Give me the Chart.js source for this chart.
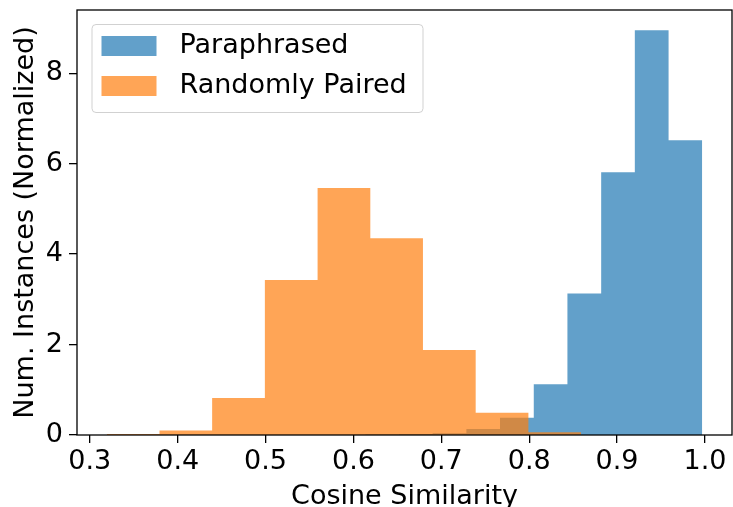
<!DOCTYPE html>
<html><head><meta charset="utf-8">
<script src="https://cdn.jsdelivr.net/npm/chart.js@4.4.0/dist/chart.umd.min.js"></script>
<style>html,body{margin:0;padding:0;background:#fff;overflow:hidden}</style>
</head><body>
<canvas id="c" width="733" height="507"></canvas>
<script>
// ---- data ----
const seriesNames = ['Paraphrased', 'Randomly Paired'];
const paraphrasedEdges = [0.6134, 0.6518, 0.6901, 0.7285, 0.7668, 0.8052, 0.8435, 0.8819, 0.9202, 0.9586, 0.9969];
const paraphrasedValues = [0.01, 0.02, 0.04, 0.13, 0.38, 1.12, 3.13, 5.81, 8.95, 6.52];
const randomEdges = [0.3193, 0.3793, 0.4392, 0.4992, 0.5592, 0.6192, 0.6791, 0.7391, 0.7991, 0.8590];
const randomValues = [0.02, 0.10, 0.82, 3.43, 5.46, 4.35, 1.88, 0.49, 0.06];
const xTicks = [0.3, 0.4, 0.5, 0.6, 0.7, 0.8, 0.9, 1.0];
const yTicks = [0, 2, 4, 6, 8];
const xTitle = 'Cosine Similarity';
const yTitle = 'Num. Instances (Normalized)';

const FONT = 'DejaVu Sans';
const FS = 27;

function histPoints(edges, values) {
  const pts = [{x: edges[0], y: 0}];
  for (let i = 0; i < values.length; i++) {
    pts.push({x: edges[i], y: values[i]});
    pts.push({x: edges[i + 1], y: values[i]});
  }
  pts.push({x: edges[values.length], y: 0});
  return pts;
}

const allEdges = paraphrasedEdges.concat(randomEdges);
const xLo = Math.min(...allEdges), xHi = Math.max(...allEdges);
const xPad = 0.05 * (xHi - xLo);
const yMax = 1.05 * Math.max(...paraphrasedValues, ...randomValues);

const spinesAndLegend = {
  id: 'spinesAndLegend',
  afterDatasetsDraw(chart) {
    const {ctx, chartArea: a} = chart;
    ctx.save();
    ctx.strokeStyle = '#000';
    ctx.lineWidth = 1.3;
    ctx.strokeRect(a.left, a.top, a.right - a.left, a.bottom - a.top);
    ctx.restore();
  },
  afterDraw(chart) {
    const {ctx, chartArea: a} = chart;
    const bx = a.left + 14.5, by = a.top + 14, bw = 331, bh = 88;
    ctx.save();
    ctx.beginPath();
    if (ctx.roundRect) ctx.roundRect(bx + 0.5, by + 0.5, bw, bh, 4); else ctx.rect(bx + 0.5, by + 0.5, bw, bh);
    ctx.fillStyle = 'rgba(255,255,255,0.8)';
    ctx.fill();
    ctx.strokeStyle = 'rgba(204,204,204,0.9)';
    ctx.lineWidth = 1;
    ctx.stroke();
    ctx.font = FS + 'px "' + FONT + '"';
    ctx.textBaseline = 'middle';
    ctx.textAlign = 'left';
    chart.data.datasets.forEach((ds, i) => {
      const cy = by + 22 + i * 40;
      ctx.fillStyle = ds.backgroundColor;
      ctx.fillRect(bx + 10, cy - 10, 55, 20);
      ctx.fillStyle = '#000';
      ctx.fillText(ds.label, bx + 88, cy);
    });
    ctx.restore();
  }
};

new Chart(document.getElementById('c'), {
  type: 'line',
  data: {
    datasets: [
      {
        label: seriesNames[0],
        data: histPoints(paraphrasedEdges, paraphrasedValues),
        backgroundColor: 'rgba(31,119,180,0.7)',
        borderColor: 'rgba(0,0,0,0)',
        borderWidth: 0,
        pointRadius: 0,
        tension: 0,
        fill: 'origin',
        order: 2
      },
      {
        label: seriesNames[1],
        data: histPoints(randomEdges, randomValues),
        backgroundColor: 'rgba(255,127,14,0.7)',
        borderColor: 'rgba(0,0,0,0)',
        borderWidth: 0,
        pointRadius: 0,
        tension: 0,
        fill: 'origin',
        order: 1
      }
    ]
  },
  options: {
    responsive: false,
    animation: false,
    devicePixelRatio: 1,
    layout: {padding: {top: 10, right: 1, left: 0, bottom: 0}},
    plugins: {legend: {display: false}, tooltip: {enabled: false}},
    scales: {
      x: {
        type: 'linear',
        min: xLo - xPad,
        max: xHi + xPad,
        afterBuildTicks(s) { s.ticks = xTicks.map(v => ({value: v})); },
        afterFit(s) { s.height = 72; s.paddingLeft = 0; s.paddingRight = 0; },
        border: {display: false},
        grid: {drawOnChartArea: false, drawTicks: true, tickLength: 8, color: '#000', lineWidth: 1.3},
        ticks: {
          color: '#000', font: {family: FONT, size: FS}, padding: 3, maxRotation: 0,
          callback: v => Number(v).toFixed(1)
        },
        title: {display: true, text: xTitle, color: '#000', font: {family: FONT, size: FS, lineHeight: 0.76}, padding: {top: 0, bottom: 0}}
      },
      y: {
        type: 'linear',
        min: 0,
        max: yMax,
        afterBuildTicks(s) { s.ticks = yTicks.map(v => ({value: v})); },
        afterFit(s) { s.width = 77; s.paddingTop = 0; s.paddingBottom = 0; },
        border: {display: false},
        grid: {drawOnChartArea: false, drawTicks: true, tickLength: 8, color: '#000', lineWidth: 1.3},
        ticks: {color: '#000', font: {family: FONT, size: FS}, padding: 6, callback: v => String(v)},
        title: {display: true, text: yTitle, color: '#000', font: {family: FONT, size: FS, lineHeight: 1}, padding: {top: 12, bottom: 0}}
      }
    }
  },
  plugins: [spinesAndLegend]
});
</script>
</body></html>
